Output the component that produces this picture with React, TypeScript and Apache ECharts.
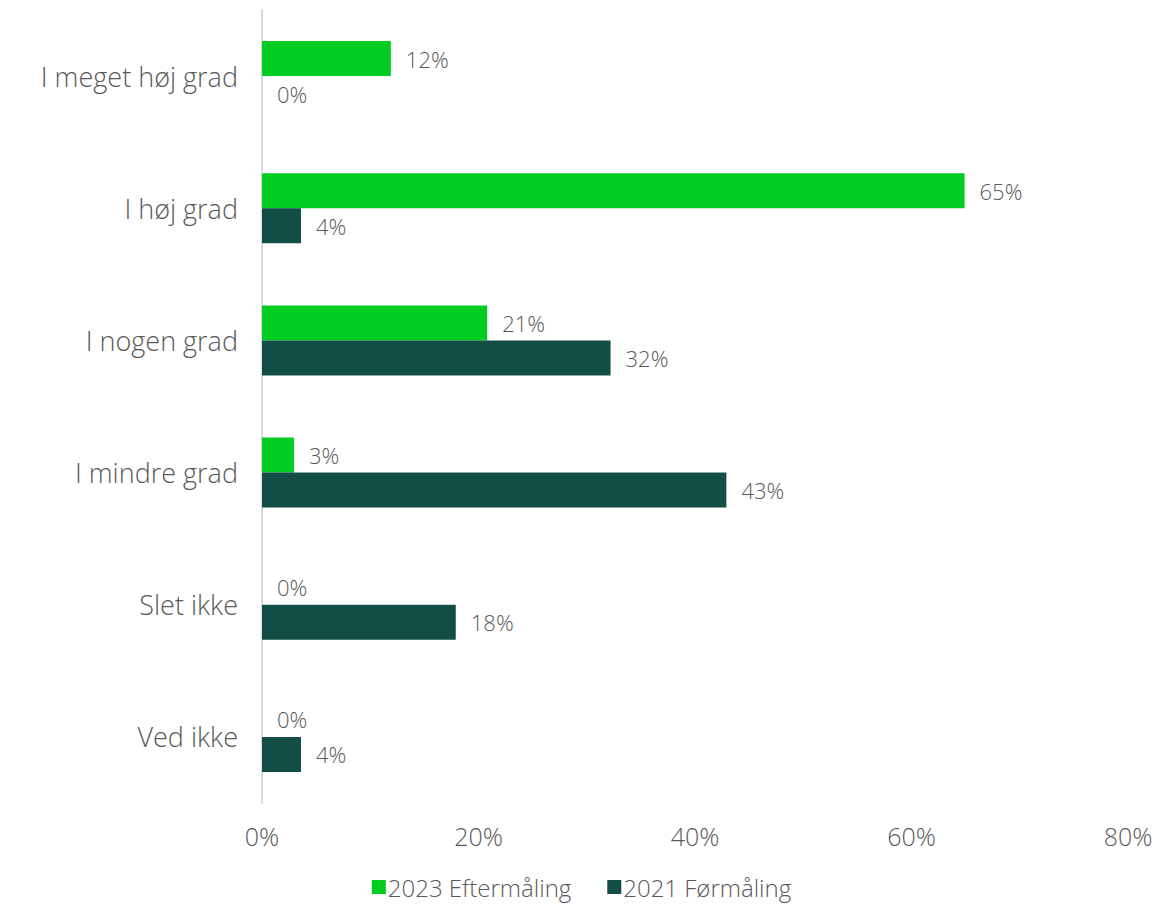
import React, { useEffect, useRef } from "react";
import * as echarts from "echarts";

const categories = ["I meget høj grad", "I høj grad", "I nogen grad", "I mindre grad", "Slet ikke", "Ved ikke"];
const series2023 = [11.9, 64.9, 20.8, 2.95, 0, 0];
const series2021 = [0, 3.6, 32.2, 42.9, 17.9, 3.6];
const seriesNames = ["2023 Eftermåling", "2021 Førmåling"];
const xTicks = [0, 20, 40, 60, 80];

const FONT = "'Open Sans', Lato, sans-serif";
const TEXT = "#595959";

export default function App() {
  const ref = useRef<HTMLDivElement>(null);
  useEffect(() => {
    document.body.style.margin = "0";
    const chart = echarts.init(ref.current!, null, { renderer: "svg" });
    const label = {
      show: true,
      position: "right",
      distance: 15,
      color: TEXT,
      fontSize: 22,
      fontFamily: FONT,
      fontWeight: 300,
      formatter: (p: any) => Math.round(p.value) + "%",
    };
    chart.setOption({
      animation: false,
      textStyle: { fontFamily: FONT },
      grid: { left: 262, right: 35, top: 10, bottom: 104, containLabel: false },
      legend: {
        top: 870,
        left: "center",
        itemWidth: 14,
        itemHeight: 14,
        itemGap: 36,
        icon: "rect",
        textStyle: { color: TEXT, fontSize: 24, fontFamily: FONT, fontWeight: 300, padding: [0, 0, 0, -3] },
        data: seriesNames,
      },
      xAxis: {
        type: "value",
        min: xTicks[0],
        max: xTicks[xTicks.length - 1],
        interval: 20,
        splitLine: { show: false },
        axisLine: { show: false },
        axisTick: { show: false },
        axisLabel: {
          color: TEXT,
          fontSize: 25,
          fontFamily: FONT,
          fontWeight: 300,
          margin: 20,
          formatter: (v: number) => v + "%",
        },
      },
      yAxis: {
        type: "category",
        inverse: true,
        data: categories,
        axisLine: { show: true, lineStyle: { color: "#d9d9d9", width: 2 } },
        axisTick: { show: false },
        axisLabel: { color: TEXT, fontSize: 27, fontFamily: FONT, fontWeight: 300, margin: 24 },
      },
      series: [
        {
          name: seriesNames[0],
          type: "bar",
          data: series2023,
          itemStyle: { color: "#00cc22" },
          barWidth: 35,
          barGap: "0%",
          label,
        },
        {
          name: seriesNames[1],
          type: "bar",
          data: series2021,
          itemStyle: { color: "#124d46" },
          barWidth: 35,
          barGap: "0%",
          label,
        },
      ],
    });
    return () => chart.dispose();
  }, []);
  return <div ref={ref} style={{ width: 1163, height: 907 }} />;
}
